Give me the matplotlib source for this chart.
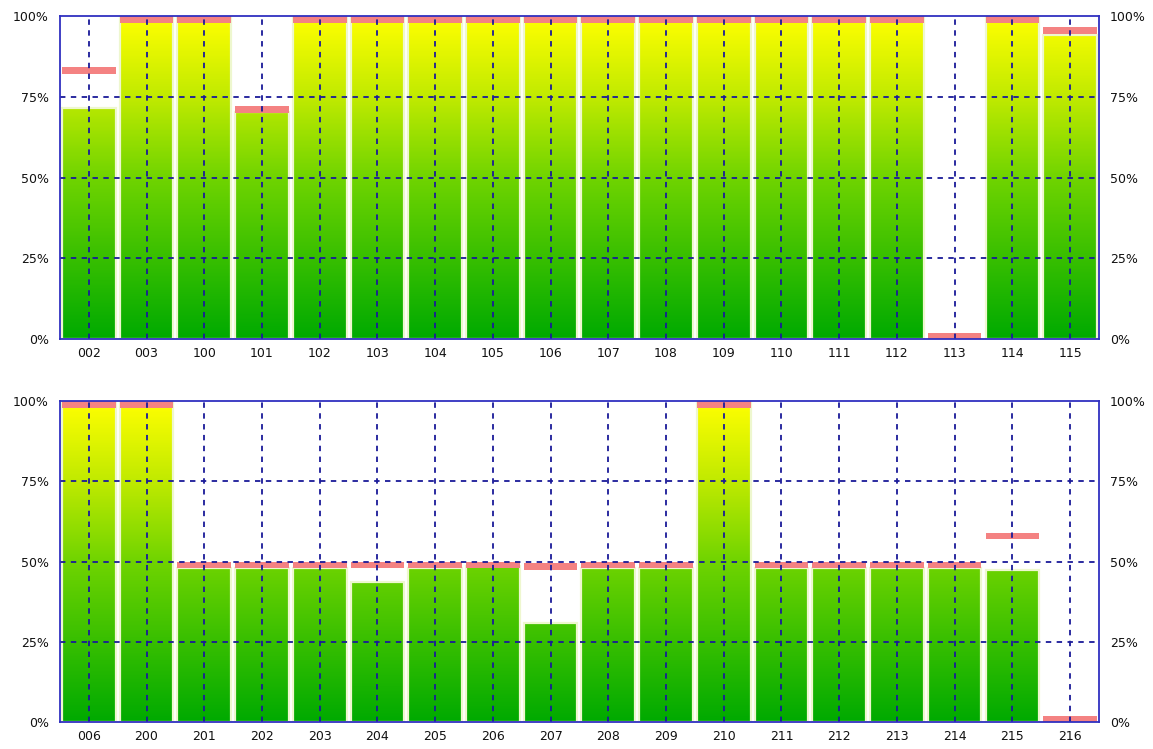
import numpy as np
import matplotlib
matplotlib.use("Agg")
import matplotlib.pyplot as plt
from matplotlib.colors import LinearSegmentedColormap
from matplotlib.patches import Rectangle

top_labels = ["002", "003", "100", "101", "102", "103", "104", "105", "106",
              "107", "108", "109", "110", "111", "112", "113", "114", "115"]
top_values = [71.4, 100, 100, 70.3, 100, 100, 100, 100, 100,
              100, 100, 100, 100, 100, 100, 0, 100, 94]
top_targets = [84.2, 100, 100, 72.2, 100, 100, 100, 100, 100,
               100, 100, 100, 100, 100, 100, 2, 100, 96.5]

bot_labels = ["006", "200", "201", "202", "203", "204", "205", "206", "207",
              "208", "209", "210", "211", "212", "213", "214", "215", "216"]
bot_values = [100, 100, 48, 48, 48, 43.5, 48, 48.5, 31,
              48, 48, 100, 48, 48, 48, 48, 47.4, 0]
bot_targets = [100, 100, 50, 50, 50, 50, 50, 50, 49.5,
               50, 50, 100, 50, 50, 50, 50, 59, 2]

cmap = LinearSegmentedColormap.from_list(
    "gy", [(0.0, "#00aa00"), (0.5, "#70d400"), (0.75, "#c0ea00"), (1.0, "#ffff00")])
grid_col = "#1a1a99"
spine_col = "#3030c0"
pink = "#f48282"
mark_h = 2.1
width = 0.93


def panel(ax, labels, values, targets):
    n = len(labels)
    x = np.arange(n)
    for xi, v, t in zip(x, values, targets):
        x0 = xi - width / 2
        x1 = xi + width / 2
        if v > 0:
            grad = np.linspace(0, v, 200).reshape(-1, 1)
            ax.imshow(grad, cmap=cmap, vmin=0, vmax=100, origin="lower",
                      extent=(x0, x1, 0, v), aspect="auto", zorder=1,
                      interpolation="bilinear")
            ax.add_patch(Rectangle((x0, 0), width, v, fill=False,
                                   edgecolor="#eef7cf", lw=1.6, zorder=2))
        ax.add_patch(Rectangle((x0, t - mark_h), width, mark_h,
                               facecolor=pink, edgecolor="none", zorder=3))
    for xi in x:
        ax.axvline(xi, color=grid_col, lw=1.3, ls=(0, (3, 3)), zorder=4)
    for yv in [25, 50, 75]:
        ax.axhline(yv, color=grid_col, lw=1.3, ls=(0, (3, 3)), zorder=4)
    ax.set_xlim(-0.5, n - 0.5)
    ax.set_ylim(0, 100)
    ax.set_xticks(x)
    ax.set_xticklabels(labels)
    ax.set_yticks([0, 25, 50, 75, 100])
    ax.set_yticklabels(["0%", "25%", "50%", "75%", "100%"])
    ax.tick_params(axis="both", length=0, labelsize=9, colors="#111111")
    ax.tick_params(axis="y", pad=8, labelright=True)
    ax.tick_params(axis="x", pad=6)
    for s in ax.spines.values():
        s.set_color(spine_col)
        s.set_linewidth(1.3)
        s.set_zorder(5)


fig = plt.figure(figsize=(11.53, 7.49), dpi=100)
ax1 = fig.add_axes([0.052, 0.5474, 0.9011, 0.4312])
ax2 = fig.add_axes([0.052, 0.036, 0.9011, 0.4286])
panel(ax1, top_labels, top_values, top_targets)
panel(ax2, bot_labels, bot_values, bot_targets)

fig.savefig("out.png", dpi=100)
